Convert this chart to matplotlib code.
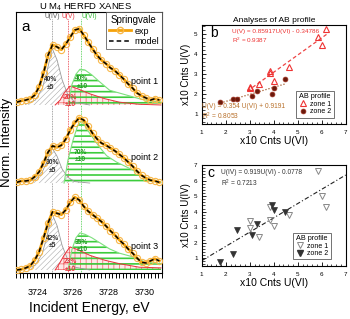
import matplotlib
matplotlib.use("Agg")
import matplotlib as mpl
import matplotlib.pyplot as plt
import numpy as np
from matplotlib.ticker import MultipleLocator
from matplotlib.lines import Line2D

# ---------------- panel a data ----------------
energy = [3722.85, 3723.10, 3723.35, 3723.60, 3723.85, 3724.10, 3724.35, 3724.60,
          3724.85, 3725.10, 3725.35, 3725.60, 3725.85, 3726.10, 3726.35, 3726.60,
          3726.85, 3727.10, 3727.35, 3727.60, 3727.85, 3728.10, 3728.35, 3728.60,
          3728.85, 3729.10, 3729.35, 3729.60, 3729.85, 3730.10, 3730.35, 3730.60,
          3730.85]
exp_p1 = [0.04, 0.06, 0.07, 0.09, 0.14, 0.26, 0.46, 0.71, 0.86, 0.83, 0.79, 0.87,
          0.97, 1.07, 1.09, 1.00, 0.90, 0.80, 0.71, 0.64, 0.59, 0.53, 0.49, 0.43,
          0.37, 0.30, 0.24, 0.17, 0.13, 0.10, 0.07, 0.09, 0.07]
exp_p2 = [0.01, 0.03, 0.03, 0.04, 0.09, 0.16, 0.29, 0.44, 0.53, 0.51, 0.54, 0.63,
          0.76, 0.86, 0.93, 0.90, 0.81, 0.71, 0.63, 0.57, 0.54, 0.50, 0.46, 0.41,
          0.36, 0.30, 0.24, 0.17, 0.11, 0.07, 0.04, 0.03, 0.01]
exp_p3 = [0.00, 0.01, 0.03, 0.06, 0.14, 0.26, 0.46, 0.67, 0.83, 0.81, 0.79, 0.86,
          0.97, 1.04, 1.00, 0.91, 0.84, 0.79, 0.74, 0.69, 0.63, 0.56, 0.50, 0.43,
          0.37, 0.30, 0.24, 0.17, 0.11, 0.10, 0.13, 0.16, 0.13]
offsets = [2.386, 1.271, 0.029]
point_names = ["point 1", "point 2", "point 3"]

iv_energy = [3723.33, 3723.89, 3724.28, 3724.56, 3724.83, 3725.11, 3725.39, 3725.72, 3726.11, 3726.94]
iv_p1 = [0.01, 0.07, 0.24, 0.50, 0.81, 0.64, 0.36, 0.14, 0.04, 0.0]
iv_p2 = [0.01, 0.05, 0.16, 0.32, 0.50, 0.38, 0.20, 0.08, 0.02, 0.0]
iv_p3 = [0.01, 0.07, 0.24, 0.50, 0.80, 0.63, 0.35, 0.14, 0.04, 0.0]

v_energy = [3725.0, 3725.28, 3725.5, 3725.83, 3726.28, 3726.94, 3727.78, 3728.61, 3729.72, 3730.94]
v_p1 = [0.0, 0.07, 0.17, 0.27, 0.23, 0.16, 0.09, 0.04, 0.01, 0.0]
v_p3 = [0.0, 0.11, 0.21, 0.33, 0.29, 0.21, 0.14, 0.09, 0.04, 0.03]

vi_energy_1 = [3725.72, 3725.94, 3726.17, 3726.39, 3726.67, 3727.06, 3727.5, 3728.06,
               3728.61, 3729.17, 3729.72, 3730.28, 3730.94]
vi_p1 = [0.0, 0.29, 0.44, 0.51, 0.50, 0.43, 0.33, 0.21, 0.17, 0.13, 0.09, 0.06, 0.04]
vi_energy_2 = [3725.5, 3725.72, 3726.0, 3726.28, 3726.5, 3726.94, 3727.5, 3727.89,
               3728.44, 3729.33, 3730.11, 3730.94]
vi_p2 = [0.0, 0.33, 0.61, 0.83, 0.89, 0.71, 0.51, 0.39, 0.30, 0.19, 0.07, 0.01]
vi_energy_3 = [3725.72, 3725.94, 3726.17, 3726.39, 3726.67, 3727.06, 3727.5, 3728.06,
               3728.61, 3729.33, 3730.11, 3730.94]
vi_p3 = [0.0, 0.29, 0.46, 0.53, 0.51, 0.46, 0.39, 0.30, 0.24, 0.19, 0.11, 0.09]

edge_energies = [3724.82, 3725.74, 3726.44]
edge_labels = ["U(IV)", "U(V)", "U(VI)"]

# ---------------- panels b, c data ----------------
z1_u6 = [3.0, 3.0, 3.4, 3.83, 3.86, 4.01, 4.62, 5.86, 6.0, 6.17]
z1_u5 = [2.37, 2.28, 2.48, 3.17, 3.03, 2.63, 3.37, 4.83, 4.45, 5.25]
z1_u4 = [3.40, 2.93, 2.39, 4.28, 3.46, 3.08, 3.78, 6.63, 5.00, 4.28]
z2_u6 = [1.77, 2.30, 2.47, 3.08, 3.31, 3.93, 4.02, 4.47]
z2_u5 = [1.62, 1.75, 1.75, 1.88, 2.13, 1.98, 2.28, 2.75]
z2_u4 = [0.74, 1.26, 2.82, 2.48, 3.23, 4.40, 4.09, 4.00]
fit_b1 = (0.85917, -0.34786)
fit_b2 = (0.354, 0.9191)
fit_c = (0.919, -0.0778)

# ---------------- figure ----------------
plt.rcParams['font.family'] = ['Liberation Sans', 'DejaVu Sans']
plt.rcParams['mathtext.fontset'] = 'custom'
plt.rcParams['mathtext.rm'] = 'Liberation Sans'
plt.rcParams['mathtext.it'] = 'Liberation Sans:italic'
fig = plt.figure(figsize=(3.5, 3.19), dpi=100)

axa = fig.add_axes([16/350, 1-273/319, 146/350, 261/319])
GRAY, RED, GREEN, ORANGE = '#8c8c8c', '#e8323c', '#3ccc3c', '#f5a20a'

exps = [exp_p1, exp_p2, exp_p3]
vis = [(vi_energy_1, vi_p1), (vi_energy_2, vi_p2), (vi_energy_3, vi_p3)]
for i, off in enumerate(offsets):
    # U(IV)
    e = np.array(iv_energy); y = np.array([iv_p1, iv_p2, iv_p3][i])
    with mpl.rc_context({'hatch.linewidth': 0.4, 'hatch.color': '#aaaaaa'}):
        axa.fill_between(e, off, y + off, facecolor='white', edgecolor='#aaaaaa',
                         hatch='//////', linewidth=0, zorder=2)
    axa.plot(e, y + off, color='#9a9a9a', lw=0.6, zorder=3)
    # U(V)
    vv = [v_p1, None, v_p3][i]
    if vv is not None:
        e = np.array(v_energy); y = np.array(vv)
        with mpl.rc_context({'hatch.linewidth': 0.5, 'hatch.color': '#f06060'}):
            axa.fill_between(e, off, y + off, facecolor='#fde8e8', edgecolor='#f06060',
                             hatch='+++', linewidth=0, zorder=2)
        axa.plot(e, y + off, color=RED, lw=0.7, zorder=3)
    # U(VI)
    e = np.array(vis[i][0]); y = np.array(vis[i][1])
    with mpl.rc_context({'hatch.linewidth': 1.2, 'hatch.color': GREEN}):
        axa.fill_between(e, off, y + off, facecolor='none', edgecolor=GREEN,
                         hatch='---', linewidth=0, zorder=2.5)
    axa.plot(e, y + off, color='#7ee07e', lw=0.8, zorder=3)
    # exp and model
    axa.plot(energy, np.array(exps[i]) + off, color=ORANGE, lw=2.0, marker='o', ms=4.5,
             mfc='none', mec='#f8b84a', mew=0.8, zorder=4)
    axa.plot(energy, np.array(exps[i]) + off, color='black', lw=1.1, ls=(0, (3, 2)), zorder=5)
    axa.text(3730.0, off + 0.33 if i != 1 else off + 0.37, point_names[i], fontsize=6.5,
             ha='center', va='center', zorder=6)

for xe, lab, c, tc, ha in zip(edge_energies, edge_labels, ['#888888', RED, '#44cc44'],
                              ['#555555', RED, '#33bb33'], ['center', 'center', 'left']):
    axa.axvline(xe, color=c, lw=0.6, ls=(0, (1, 1)), ymax=0.975, zorder=1)
    axa.text(xe + (0.02 if ha == 'left' else 0), 3.65, lab, color=tc, fontsize=4.8,
             ha=ha, va='center')

pct = [
    (3724.75, 2.69, "40%\n±5", '#333333'),
    (3726.5, 2.71, "40%\n±10", '#229922'),
    (3725.83, 2.44, "20%\n±10", RED),
    (3724.83, 1.51, "30%\n±5", '#333333'),
    (3726.39, 1.66, "70%\n±10", '#229922'),
    (3724.83, 0.43, "42%\n±5", '#333333'),
    (3726.5, 0.37, "35%\n±10", '#229922'),
    (3725.83, 0.09, "23%\n±10", RED),
]
for x, y, t, c in pct:
    axa.text(x, y, t, color=c, fontsize=4.8, ha='center', va='center',
             fontweight='bold', linespacing=1.1, zorder=6)

axa.set_xlim(3722.8, 3731.0)
axa.set_ylim(-0.014, 3.714)
axa.set_yticks([])
axa.xaxis.set_major_locator(MultipleLocator(2))
axa.xaxis.set_minor_locator(MultipleLocator(0.2))
axa.tick_params(axis='x', which='both', direction='out', length=3.5, width=0.7,
                labelsize=6.5, pad=7)
axa.set_xlabel("Incident Energy, eV", fontsize=10, labelpad=3)
axa.set_ylabel("Norm. Intensity", fontsize=9.5, labelpad=2)
fig.text(86/350, 1-6.5/319, "U M$_4$ HERFD XANES", fontsize=6.8, ha='center', va='center')
axa.text(0.04, 0.97, "a", transform=axa.transAxes, fontsize=11, va='top', ha='left')
for s in axa.spines.values():
    s.set_linewidth(0.8)
h1 = Line2D([], [], color=ORANGE, lw=2.0, marker='o', ms=4.5, mfc='none', mec='#f8b84a')
h2 = Line2D([], [], color='black', lw=1.1, ls=(0, (3, 2)))
leg = axa.legend([h1, h2], ['exp', 'model'], title='Springvale', loc='upper right',
                 fontsize=6.5, title_fontsize=7, frameon=True, fancybox=False,
                 edgecolor='#555555', handlelength=2.4, borderpad=0.3, labelspacing=0.15,
                 handletextpad=0.4, borderaxespad=0.05)
leg.get_frame().set_linewidth(0.7)
leg.set_zorder(10)

# ---------------- panel b ----------------
axb = fig.add_axes([201.7/350, 1-124/319, 144/350, 99/319])
xb1 = np.array([2.9, 6.2])
axb.plot(xb1, fit_b1[0]*xb1 + fit_b1[1], color='#ee4444', lw=0.9, ls=(0, (3, 2)))
xb2 = np.array([1.78, 4.5])
axb.plot(xb2, fit_b2[0]*xb2 + fit_b2[1], color='#a05a2c', lw=0.9, ls=(0, (1, 1.5)))
axb.plot(z1_u6, z1_u5, ls='none', marker='^', ms=4, mfc='none', mec='#ee3333', mew=0.8)
axb.plot(z2_u6, z2_u5, ls='none', marker='o', ms=3.5, mfc='#6b1a0c', mec='#a03020', mew=0.5)
axb.set_xlim(1, 7)
axb.set_ylim(0.5, 5.45)
axb.set_title("Analyses of AB profile", fontsize=6, pad=2)
axb.text(0.06, 0.92, "b", transform=axb.transAxes, fontsize=10, va='center', ha='left')
axb.text(231.7/350, 1-31.7/319, "U(V) = 0.85917U(VI) - 0.34786", transform=fig.transFigure,
         fontsize=4.6, color='#ee3333', va='center')
axb.text(231.7/350, 1-40/319, "R$^2$ = 0.9387", transform=fig.transFigure,
         fontsize=4.6, color='#ee3333', va='center')
axb.text(201.7/350, 1-106.7/319, "U(V) = 0.354 U(VI) + 0.9191", transform=fig.transFigure,
         fontsize=4.8, color='#b8702a', va='center')
axb.text(201.7/350, 1-116/319, "R$^2$ = 0.8053", transform=fig.transFigure,
         fontsize=4.8, color='#b8702a', va='center')
hb1 = Line2D([], [], ls='none', marker='^', ms=4, mfc='none', mec='#ee3333', mew=0.8)
hb2 = Line2D([], [], ls='none', marker='o', ms=3.5, mfc='#6b1a0c', mec='#a03020', mew=0.5)
lb = axb.legend([hb1, hb2], ['zone 1', 'zone 2'], title='AB profile', loc='lower right',
                bbox_to_anchor=(0.94, 0.03), fontsize=5, title_fontsize=5.2,
                frameon=True, fancybox=False, edgecolor='#333333', handlelength=1.2,
                borderpad=0.3, labelspacing=0.1, handletextpad=0.5)
lb.get_frame().set_linewidth(0.6)
axb.set_ylabel("x10 Cnts U(V)", fontsize=7, labelpad=2)
axb.set_xlabel("x10 Cnts U(VI)", fontsize=7.5, labelpad=1)

# ---------------- panel c ----------------
axc = fig.add_axes([201.7/350, 1-266/319, 144/350, 101/319])
xc = np.array([1.0, 7.0])
axc.plot(xc, fit_c[0]*xc + fit_c[1], color='#222222', lw=0.8, ls=(0, (4, 2, 1, 2)))
axc.plot(z1_u6, z1_u4, ls='none', marker='v', ms=4, mfc='none', mec='#888888', mew=0.7)
axc.plot(z2_u6, z2_u4, ls='none', marker='v', ms=4, mfc='#333333', mec='#333333', mew=0.5)
axc.set_xlim(1, 7)
axc.set_ylim(0.5, 7)
axc.text(207.7/350, 1-172.7/319, "c", transform=fig.transFigure, fontsize=10, va='center')
axc.text(220.7/350, 1-172.7/319, "U(IV) = 0.919U(VI) - 0.0778", transform=fig.transFigure,
         fontsize=4.8, color='#333333', va='center')
axc.text(220.7/350, 1-183.3/319, "R$^2$ = 0.7213", transform=fig.transFigure,
         fontsize=4.8, color='#333333', va='center')
hc1 = Line2D([], [], ls='none', marker='v', ms=4, mfc='none', mec='#888888', mew=0.7)
hc2 = Line2D([], [], ls='none', marker='v', ms=4, mfc='#333333', mec='#333333')
lc = axc.legend([hc1, hc2], ['zone 1', 'zone 2'], title='AB profile', loc='lower right',
                bbox_to_anchor=(0.92, 0.03), fontsize=5, title_fontsize=5.2,
                frameon=True, fancybox=False, edgecolor='#333333', handlelength=1.2,
                borderpad=0.3, labelspacing=0.1, handletextpad=0.5)
lc.get_frame().set_linewidth(0.6)
axc.set_ylabel("x10 Cnts U(IV)", fontsize=7, labelpad=2)
axc.set_xlabel("x10 Cnts U(VI)", fontsize=7.5, labelpad=1)

for ax in (axb, axc):
    ax.xaxis.set_major_locator(MultipleLocator(1))
    ax.xaxis.set_minor_locator(MultipleLocator(0.2))
    ax.yaxis.set_major_locator(MultipleLocator(1))
    ax.yaxis.set_minor_locator(MultipleLocator(0.2))
    ax.tick_params(which='major', direction='in', length=3, width=0.6, labelsize=4.5, pad=3)
    ax.tick_params(which='minor', direction='in', length=1.8, width=0.5)
    ax.tick_params(axis='x', pad=4)
    for s in ax.spines.values():
        s.set_linewidth(0.8)

fig.savefig("out.png", dpi=100)
